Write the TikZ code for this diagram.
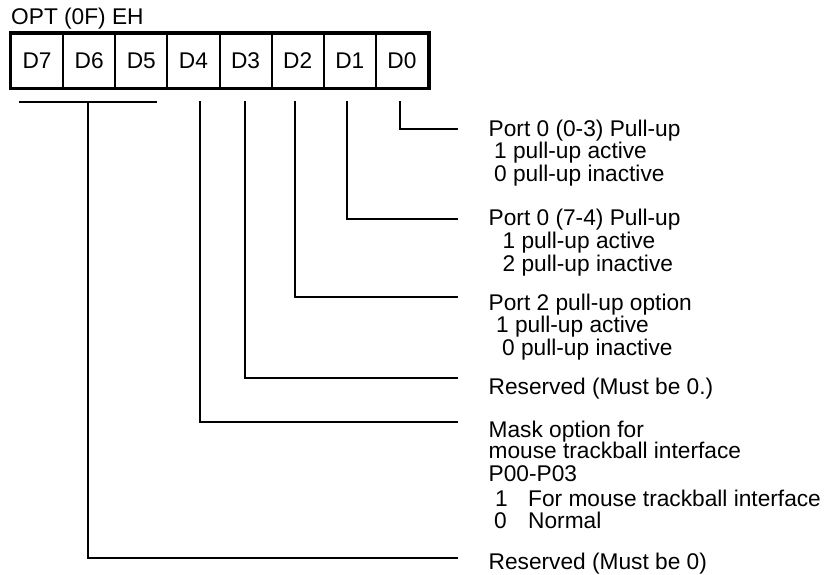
\documentclass[tikz,border=0pt]{standalone}
\usepackage{fontspec}
\setmainfont{Liberation Sans}
\usetikzlibrary{calc}
\begin{document}
\begin{tikzpicture}[x=1pt,y=-1pt,
  txt/.style={anchor=base west, inner sep=0pt, font=\fontsize{22.7}{22.5}\selectfont},
  cell/.style={draw, line width=2pt, minimum width=52.125pt, minimum height=54pt, inner sep=0pt, font=\fontsize{22.7}{22.5}\selectfont},
  frame/.style={line width=3pt},
  wire/.style={line width=1.4pt}]
\useasboundingbox (0,0) rectangle (827,575);
\node[txt] (title) at (11,25) {OPT (0F) EH};
\foreach \b [count=\i from 0] in {7,6,5,4,3,2,1,0}
  \node[cell] (d\b) at ({11+52.125*(\i+0.5)},61) {D\b};
\draw[frame] (d7.north west) rectangle (d0.south east);

% end points of the connectors
\coordinate (e0) at (458,129);
\coordinate (e1) at (458,219);
\coordinate (e2) at (458,297);
\coordinate (e3) at (458,378);
\coordinate (e4) at (458,422);
\coordinate (e5) at (458,558);

% connectors
\draw[wire] ([xshift=-2pt,yshift=-12pt]d0.south) |- (e0);
\draw[wire] ([xshift=-3pt,yshift=-12pt]d1.south) |- (e1);
\draw[wire] ([xshift=-2.6pt,yshift=-12pt]d2.south) |- (e2);
\draw[wire] ([xshift=-0.5pt,yshift=-12pt]d3.south) |- (e3);
\draw[wire] ([xshift=6.6pt,yshift=-12pt]d4.south) |- (e4);
\draw[wire] ([xshift=9pt,yshift=-13pt]d7.south west) -- ([xshift=-11.4pt,yshift=-13pt]d5.south east);
\draw[wire] ([xshift=-1.2pt,yshift=-13pt]d6.south) |- (e5);

% texts
\node[txt] (t0a) at (488.5,136) {Port 0 (0-3) Pull-up};
\node[txt] (t0b) at (494,158.5) {1 pull-up active};
\node[txt] (t0c) at (494,181) {0 pull-up inactive};

\node[txt] (t1a) at (488.5,225.5) {Port 0 (7-4) Pull-up};
\node[txt] (t1b) at (502.5,248) {1 pull-up active};
\node[txt] (t1c) at (502.5,271) {2 pull-up inactive};

\node[txt] (t2a) at (488.5,310) {Port 2 pull-up option};
\node[txt] (t2b) at (496,332.5) {1 pull-up active};
\node[txt] (t2c) at (502,355) {0 pull-up inactive};

\node[txt] (t3a) at (488.5,394) {Reserved (Must be 0.)};

\node[txt] (t4a) at (488.5,437) {Mask option for};
\node[txt] (t4b) at (488.5,458.5) {mouse trackball interface};
\node[txt] (t4c) at (488.5,481) {P00-P03};
\node[txt] (t4d) at (495,506) {1};
\node[txt] (t4e) at (528,506) {For mouse trackball interface};
\node[txt] (t4f) at (494,528) {0};
\node[txt] (t4g) at (528,528) {Normal};

\node[txt] (t5a) at (488.5,569.5) {Reserved (Must be 0)};
\end{tikzpicture}
\end{document}
